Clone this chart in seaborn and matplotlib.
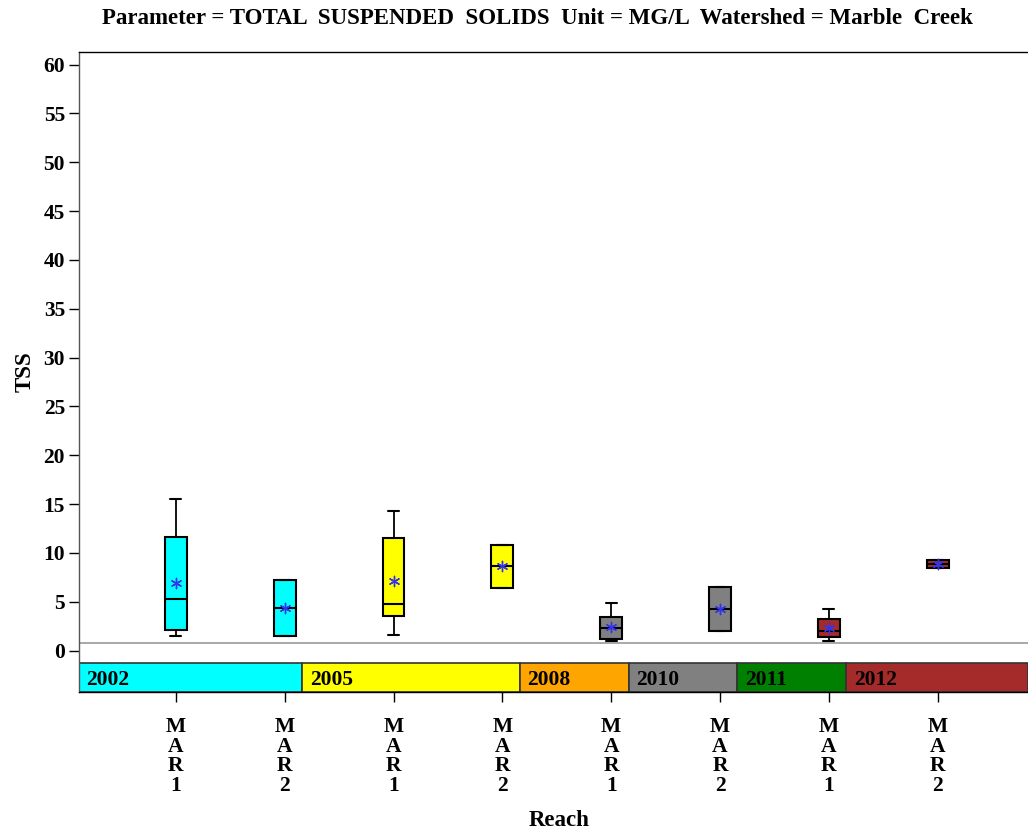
import matplotlib.pyplot as plt
import seaborn as sns
import numpy as np
import pandas as pd

# ============================================
# Data
# ============================================
reach_labels = ["M\nA\nR\n1", "M\nA\nR\n2"] * 4
positions = [1, 2, 3, 4, 5, 6, 7, 8]
box_colors = ["#00FFFF", "#00FFFF", "#FFFF00", "#FFFF00",
              "#808080", "#808080", "#A52A2A", "#A52A2A"]

whislo = [1.47, 1.54, 1.57, 6.45, 0.96, 2.02, 0.99, 8.46]
q1 = [2.15, 1.54, 3.58, 6.45, 1.17, 2.02, 1.37, 8.46]
med = [5.3, 4.37, 4.75, 8.7, 2.29, 4.3, 1.98, 8.9]
q3 = [11.6, 7.2, 11.57, 10.85, 3.45, 6.55, 3.2, 9.3]
whishi = [15.5, 7.2, 14.3, 10.85, 4.9, 6.55, 4.3, 9.3]
means = [6.9, 4.4, 7.16, 8.7, 2.43, 4.3, 2.36, 8.9]

ref_value = 0.76

band_years = ["2002", "2005", "2008", "2010", "2011", "2012"]
band_starts = [0.11, 2.16, 4.16, 5.16, 6.16, 7.16]
band_ends = [2.16, 4.16, 5.16, 6.16, 7.16, 8.83]
band_colors = ["#00FFFF", "#FFFF00", "#FFA500", "#808080", "#008000", "#A52A2A"]

# ============================================
# Setup
# ============================================
sns.set_style("white")
plt.rcParams["font.family"] = ["Liberation Serif", "DejaVu Serif"]
plt.rcParams["font.weight"] = "bold"
plt.rcParams["text.color"] = "black"
plt.rcParams["axes.labelcolor"] = "black"
plt.rcParams["xtick.color"] = "black"
plt.rcParams["ytick.color"] = "black"

fig = plt.figure(figsize=(10.28, 8.33), dpi=100)
ax = fig.add_axes([79 / 1028, 1 - 692 / 833, 1 - 79 / 1028, (692 - 52) / 833])

ylo, yhi = -4.23, 61.28
band_top = -1.29

# Boxes
stats = []
for i in range(len(positions)):
    stats.append(dict(whislo=whislo[i], q1=q1[i], med=med[i],
                      q3=q3[i], whishi=whishi[i], fliers=[]))
bp = ax.bxp(stats, positions=positions, widths=0.2, patch_artist=True,
            showfliers=False,
            boxprops=dict(edgecolor="black", linewidth=1.5),
            medianprops=dict(color="black", linewidth=1.5),
            whiskerprops=dict(color="black", linewidth=1.3),
            capprops=dict(color="black", linewidth=1.5),
            capwidths=0.1)
for patch, c in zip(bp["boxes"], box_colors):
    patch.set_facecolor(c)

# Means
mean_df = pd.DataFrame({"pos": positions, "mean": means})
sns.scatterplot(data=mean_df, x="pos", y="mean", ax=ax, marker=(6, 2, 0),
                color="#3333EE", s=55, linewidth=1.0, zorder=5)

# Reference line
ax.axhline(ref_value, color="#999999", linewidth=1.2, zorder=1)

# Year band
for yr, s, e, c in zip(band_years, band_starts, band_ends, band_colors):
    ax.bar(s, band_top - ylo, width=e - s, bottom=ylo, align="edge",
           color=c, edgecolor="#333333", linewidth=1.2, zorder=2)
    ax.text(s + 0.07, (band_top + ylo) / 2 - 0.2, yr, fontsize=15.5,
            fontweight="bold", ha="left", va="center", zorder=3)

ax.set_xlim(0.11, 8.83)
ax.set_ylim(ylo, yhi)
ax.set_yticks(np.arange(0, 61, 5))
ax.set_xticks(positions)
ax.set_xticklabels(reach_labels, fontsize=15.5, fontweight="bold",
                   linespacing=0.98)
ax.tick_params(axis="y", labelsize=15.5, length=7, width=1, direction="out",
               left=True, pad=3)
ax.tick_params(axis="x", length=7, width=1, direction="out", bottom=True,
               pad=11)
for lab in ax.get_yticklabels():
    lab.set_fontweight("bold")

ax.spines["right"].set_visible(False)
for side in ["left", "top", "bottom"]:
    ax.spines[side].set_color("black")
    ax.spines[side].set_linewidth(1.0)
ax.spines["left"].set_color("#555555")

ax.set_xlabel("")
ax.set_ylabel("TSS", fontsize=16.5, fontweight="bold", labelpad=6)
fig.text(559 / 1028, 1 - 820 / 833, "Reach", fontsize=16.5, fontweight="bold",
         ha="center", va="center")

fig.text(537 / 1028, 1 - 18 / 833,
         "Parameter = TOTAL  SUSPENDED  SOLIDS  Unit = MG/L  Watershed = Marble  Creek",
         fontsize=16.5, fontweight="bold", ha="center", va="center")

fig.savefig("out.png", dpi=100)
